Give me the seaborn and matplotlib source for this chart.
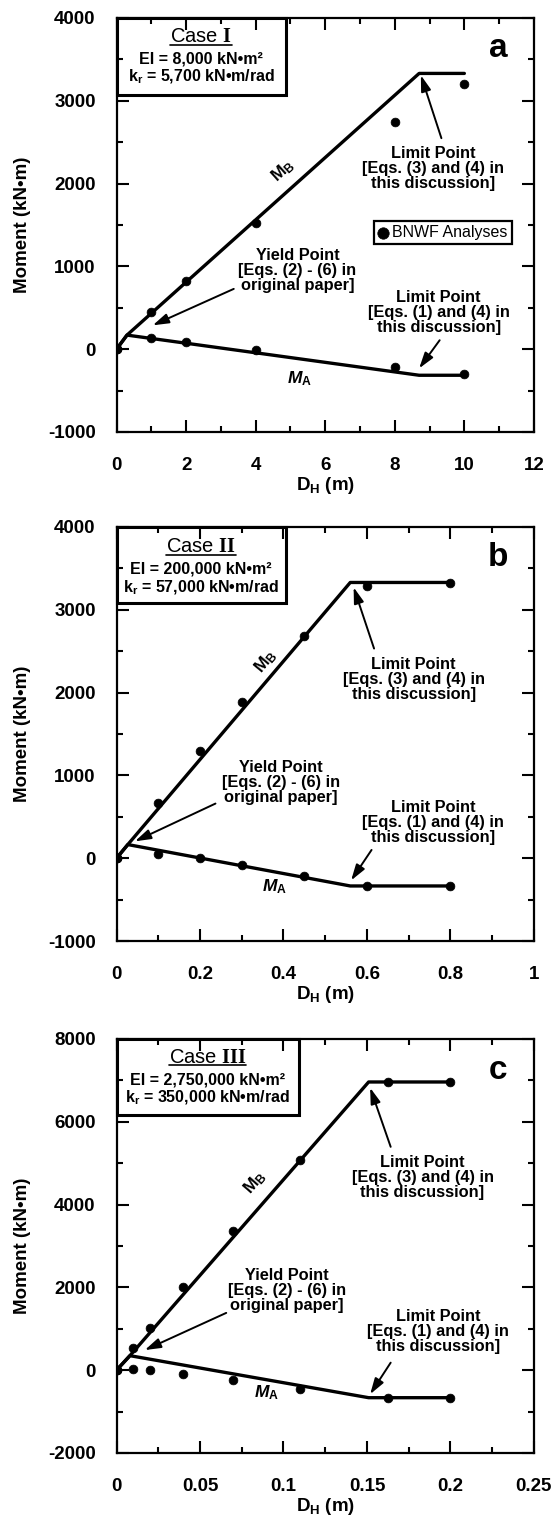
import matplotlib
matplotlib.use('Agg')
import matplotlib.pyplot as plt
import matplotlib.ticker as mticker
from matplotlib.patches import Rectangle
from matplotlib.lines import Line2D
import seaborn as sns

# BNWF analyses (dots)
case1_dh = [0, 1, 2, 4, 8, 10]
case1_mb = [0, 450, 820, 1520, 2740, 3200]
case1_ma = [0, 130, 85, -10, -210, -300]
# simplified solution (lines)
case1_line_dh = [0, 0.3, 8.7, 10]
case1_line_mb = [0, 170, 3330, 3330]
case1_line_ma = [0, 170, -315, -315]

case2_dh = [0, 0.1, 0.2, 0.3, 0.45, 0.6, 0.8]
case2_mb = [0, 670, 1300, 1890, 2680, 3290, 3325]
case2_ma = [0, 45, 5, -80, -210, -335, -335]
case2_line_dh = [0, 0.027, 0.56, 0.8]
case2_line_mb = [0, 165, 3330, 3330]
case2_line_ma = [0, 165, -335, -335]

case3_dh = [0, 0.01, 0.02, 0.04, 0.07, 0.11, 0.1625, 0.2]
case3_mb = [0, 540, 1030, 2000, 3350, 5080, 6950, 6950]
case3_ma = [0, 40, 0, -100, -245, -460, -665, -665]
case3_line_dh = [0, 0.008, 0.151, 0.2]
case3_line_mb = [0, 350, 6960, 6960]
case3_line_ma = [0, 350, -665, -665]

sns.set_theme(style='ticks')
plt.rcParams['font.family'] = ['Liberation Sans', 'DejaVu Sans']
plt.rcParams['font.weight'] = 'bold'
plt.rcParams['text.color'] = 'black'
plt.rcParams['axes.labelcolor'] = 'black'
plt.rcParams['axes.unicode_minus'] = False
plt.rcParams['mathtext.fontset'] = 'custom'
plt.rcParams['mathtext.rm'] = 'Liberation Serif'
plt.rcParams['mathtext.sf'] = 'Liberation Sans'
plt.rcParams['mathtext.bf'] = 'Liberation Sans:bold'
plt.rcParams['mathtext.it'] = 'Liberation Sans:italic:bold'

panels = [
    dict(dh=case1_dh, mb=case1_mb, ma=case1_ma,
         ldh=case1_line_dh, lmb=case1_line_mb, lma=case1_line_ma,
         bottom=0.7158, xlim=(0, 12), ylim=(-1000, 4000),
         xmaj=2, xmin=1, ymaj=1000, ymin=500, letter='a',
         case=r'Case $\mathrm{I}$',
         ei='EI = 8,000 kN•m²', kr=r'$\mathbf{k_r}$ = 5,700 kN•m/rad',
         boxw=0.405, boxy=0.815, tys=(0.954, 0.902, 0.858),
         mb_lab=(4.79, 2150, 42), ma_lab=(5.25, -352),
         lim_up=((9.11, 2176), (9.34, 2548), (8.75, 3308)),
         yld=((5.2, 956), (3.37, 728), (1.04, 288)),
         lim_lo=((9.26, 448), (9.29, 108), (8.70, -232)),
         legend=True, ly=0.926),
    dict(dh=case2_dh, mb=case2_mb, ma=case2_ma,
         ldh=case2_line_dh, lmb=case2_line_mb, lma=case2_line_ma,
         bottom=0.3809, xlim=(0, 1), ylim=(-1000, 4000),
         xmaj=0.2, xmin=0.1, ymaj=1000, ymin=500, letter='b',
         case=r'Case $\mathrm{II}$',
         ei='EI = 200,000 kN•m²', kr=r'$\mathbf{k_r}$ = 57,000 kN•m/rad',
         boxw=0.406, boxy=0.816, tys=(0.952, 0.899, 0.854),
         mb_lab=(0.358, 2372, 50), ma_lab=(0.379, -348),
         lim_up=((0.712, 2164), (0.617, 2532), (0.568, 3272)),
         yld=((0.394, 920), (0.237, 660), (0.044, 204)),
         lim_lo=((0.759, 432), (0.611, 100), (0.562, -268)),
         legend=False, ly=0.926),
    dict(dh=case3_dh, mb=case3_mb, ma=case3_ma,
         ldh=case3_line_dh, lmb=case3_line_mb, lma=case3_line_ma,
         bottom=0.0441, xlim=(0, 0.25), ylim=(-2000, 8000),
         xmaj=0.05, xmin=0.025, ymaj=2000, ymin=1000, letter='c',
         case=r'Case $\mathrm{III}$',
         ei='EI = 2,750,000 kN•m²', kr=r'$\mathbf{k_r}$ = 350,000 kN•m/rad',
         boxw=0.436, boxy=0.816, tys=(0.956, 0.900, 0.858),
         mb_lab=(0.083, 4527, 49), ma_lab=(0.090, -541),
         lim_up=((0.1833, 4656), (0.1642, 5394), (0.1519, 6821)),
         yld=((0.1021, 1921), (0.0657, 1383), (0.0169, 485)),
         lim_lo=((0.1928, 926), (0.1642, 181), (0.1519, -581)),
         legend=False, ly=0.924),
]

lim_up_txt = 'Limit Point\n[Eqs. (3) and (4) in\nthis discussion]'
lim_lo_txt = 'Limit Point\n[Eqs. (1) and (4) in\nthis discussion]'
yld_txt = 'Yield Point\n[Eqs. (2) - (6) in\noriginal paper]'

fig = plt.figure(figsize=(5.55, 15.2), dpi=100)
case_texts = []

for p in panels:
    ax = fig.add_axes([0.210, p['bottom'], 0.752, 0.2724])

    sns.lineplot(x=p['ldh'], y=p['lmb'], ax=ax, color='black', lw=2.4,
                 sort=False, estimator=None)
    sns.lineplot(x=p['ldh'], y=p['lma'], ax=ax, color='black', lw=2.4,
                 sort=False, estimator=None)
    sns.scatterplot(x=p['dh'], y=p['mb'], ax=ax, color='black', s=40,
                    edgecolor='black', zorder=3, label='BNWF Analyses')
    sns.scatterplot(x=p['dh'], y=p['ma'], ax=ax, color='black', s=40,
                    edgecolor='black', zorder=3)

    ax.set_xlim(*p['xlim'])
    ax.set_ylim(*p['ylim'])
    ax.xaxis.set_major_locator(mticker.MultipleLocator(p['xmaj']))
    ax.xaxis.set_minor_locator(mticker.MultipleLocator(p['xmin']))
    ax.yaxis.set_major_locator(mticker.MultipleLocator(p['ymaj']))
    ax.yaxis.set_minor_locator(mticker.MultipleLocator(p['ymin']))
    ax.xaxis.set_major_formatter(mticker.FuncFormatter(lambda v, pos: f'{v:g}'))
    ax.yaxis.set_major_formatter(mticker.FuncFormatter(lambda v, pos: f'{v:g}'))
    ax.tick_params(which='both', direction='in', top=True, right=True,
                   width=1.5, colors='black', labelsize=13.5)
    ax.tick_params(which='major', length=8.5)
    ax.tick_params(which='minor', length=4.5)
    ax.tick_params(axis='x', pad=18)
    ax.tick_params(axis='y', pad=15)
    for lab in ax.get_xticklabels() + ax.get_yticklabels():
        lab.set_fontweight('bold')
    for sp in ax.spines.values():
        sp.set_linewidth(1.6)
        sp.set_color('black')

    ax.set_ylabel('Moment (kN•m)', fontsize=13.5, fontweight='bold', labelpad=12)
    ax.set_xlabel(r'$\mathbf{D_H}$ (m)', fontsize=13.5, fontweight='bold', labelpad=1)

    # case box
    ax.add_patch(Rectangle((0, p['boxy']), p['boxw'], 1 - p['boxy'],
                           transform=ax.transAxes, fill=False, lw=2.2,
                           edgecolor='black', zorder=5, clip_on=False))
    cx = p['boxw'] / 2
    t = ax.text(cx, p['tys'][0], p['case'], transform=ax.transAxes, ha='center',
                va='center', fontsize=14.5, fontweight='normal')
    case_texts.append((ax, t))
    ax.text(cx, p['tys'][1], p['ei'], transform=ax.transAxes, ha='center',
            va='center', fontsize=11.5, fontweight='bold')
    ax.text(cx, p['tys'][2], p['kr'], transform=ax.transAxes, ha='center',
            va='center', fontsize=11.5, fontweight='bold')

    ax.text(0.915, p['ly'], p['letter'], transform=ax.transAxes, ha='center',
            va='center', fontsize=24, fontweight='bold')

    mx, my, rot = p['mb_lab']
    ax.text(mx, my, r'$\mathbf{M_B}$', ha='center', va='center', fontsize=12.5,
            rotation=rot, rotation_mode='anchor')
    ax.text(p['ma_lab'][0], p['ma_lab'][1], r'$\mathit{M}_\mathbf{A}$',
            ha='center', va='center', fontsize=12.5)

    for key, txt in [('lim_up', lim_up_txt), ('yld', yld_txt), ('lim_lo', lim_lo_txt)]:
        (tx, ty), tail, head = p[key]
        ax.text(tx, ty, txt, ha='center', va='center', fontsize=11.8,
                fontweight='bold', linespacing=1.0)
        ax.annotate('', xy=head, xytext=tail,
                    arrowprops=dict(arrowstyle='-|>,head_length=0.8,head_width=0.25',
                                    color='black', lw=1.4, shrinkA=0, shrinkB=0))

    if p['legend']:
        h, l = ax.get_legend_handles_labels()
        leg = ax.legend(h[:1], l[:1], loc='center', bbox_to_anchor=(0.782, 0.481),
                        frameon=True, fancybox=False, handlelength=0.6,
                        handletextpad=0.3, borderpad=0.25, borderaxespad=0,
                        markerscale=1.3, prop={'size': 11.5, 'weight': 'normal'})
        leg.get_frame().set_edgecolor('black')
        leg.get_frame().set_linewidth(1.6)
        leg.get_frame().set_alpha(1)
    else:
        if ax.get_legend() is not None:
            ax.get_legend().remove()

# underline the "Case" titles
renderer = fig.canvas.get_renderer()
for ax, t in case_texts:
    bb = t.get_window_extent(renderer).transformed(ax.transAxes.inverted())
    ax.add_line(Line2D([bb.x0, bb.x1], [bb.y0 + 0.004, bb.y0 + 0.004],
                       transform=ax.transAxes, color='black', lw=1.2))

fig.savefig('out.png', dpi=100)
